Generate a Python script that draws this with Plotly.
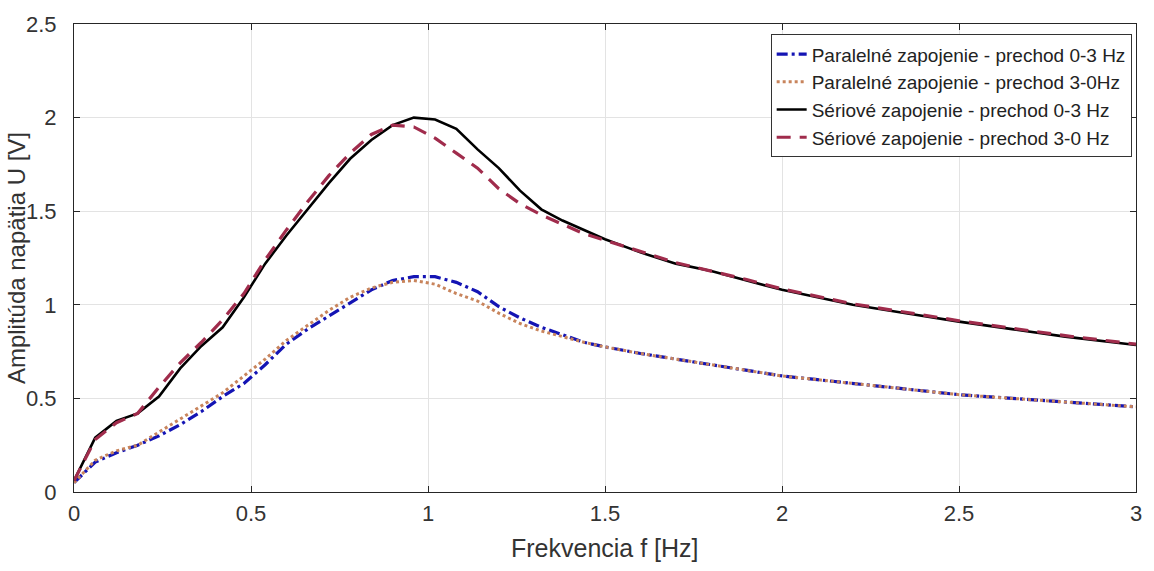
import plotly.graph_objects as go

# Frequency samples [Hz]
freq = [0, 0.06, 0.12, 0.18, 0.24, 0.30, 0.36, 0.42, 0.48, 0.54, 0.60, 0.66, 0.72, 0.78,
        0.84, 0.90, 0.96, 1.02, 1.08, 1.14, 1.20, 1.26, 1.32, 1.38, 1.44, 1.50, 1.60,
        1.70, 1.80, 1.90, 2.00, 2.10, 2.20, 2.35, 2.50, 2.65, 2.80, 3.00]

par_up = [0.05, 0.16, 0.21, 0.25, 0.30, 0.36, 0.43, 0.51, 0.58, 0.68, 0.79, 0.87, 0.94, 1.01,
          1.08, 1.13, 1.15, 1.15, 1.12, 1.07, 0.99, 0.93, 0.88, 0.84, 0.80, 0.775, 0.74,
          0.71, 0.68, 0.65, 0.62, 0.60, 0.58, 0.55, 0.52, 0.50, 0.48, 0.455]

par_down = [0.05, 0.17, 0.22, 0.25, 0.32, 0.39, 0.46, 0.53, 0.62, 0.71, 0.81, 0.89, 0.97, 1.04,
            1.09, 1.12, 1.13, 1.11, 1.06, 1.02, 0.955, 0.90, 0.86, 0.83, 0.80, 0.775, 0.74,
            0.71, 0.68, 0.65, 0.62, 0.60, 0.58, 0.55, 0.52, 0.50, 0.48, 0.455]

ser_up = [0.06, 0.29, 0.38, 0.42, 0.51, 0.66, 0.78, 0.88, 1.04, 1.22, 1.37, 1.51, 1.65, 1.78,
          1.88, 1.96, 2.00, 1.99, 1.94, 1.83, 1.73, 1.61, 1.51, 1.45, 1.40, 1.35, 1.28,
          1.22, 1.18, 1.13, 1.08, 1.04, 1.00, 0.955, 0.91, 0.87, 0.83, 0.785]

ser_down = [0.06, 0.28, 0.37, 0.42, 0.56, 0.69, 0.80, 0.92, 1.06, 1.24, 1.40, 1.55, 1.69, 1.81,
            1.91, 1.96, 1.95, 1.89, 1.81, 1.73, 1.62, 1.54, 1.48, 1.43, 1.38, 1.345, 1.285,
            1.225, 1.18, 1.135, 1.085, 1.045, 1.005, 0.96, 0.915, 0.875, 0.835, 0.79]

names = ["Paralelné zapojenie - prechod 0-3 Hz",
         "Paralelné zapojenie - prechod 3-0Hz",
         "Sériové zapojenie - prechod 0-3 Hz",
         "Sériové zapojenie - prechod 3-0 Hz"]

x_title = "Frekvencia f [Hz]"
y_title = "Amplitúda napätia U [V]"

x_ticks = [0, 0.5, 1, 1.5, 2, 2.5, 3]
x_tick_text = ["0", "0.5", "1", "1.5", "2", "2.5", "3"]
y_ticks = [0, 0.5, 1, 1.5, 2, 2.5]
y_tick_text = ["0", "0.5", "1", "1.5", "2", "2.5"]

fig = go.Figure()
fig.add_trace(go.Scatter(x=freq, y=par_up, name=names[0], mode="lines", legendgroup="a",
                         line=dict(color="#1414b4", width=3.2, dash="11px,4px,3px,4px")))
fig.add_trace(go.Scatter(x=freq, y=par_down, name=names[1], mode="lines", legendgroup="b",
                         line=dict(color="#c8845c", width=3, dash="dot")))
fig.add_trace(go.Scatter(x=freq, y=ser_up, name=names[2], mode="lines", legendgroup="c",
                         line=dict(color="#000000", width=2.6)))
fig.add_trace(go.Scatter(x=freq, y=ser_down, name=names[3], mode="lines", legendgroup="d",
                         line=dict(color="#a02c4c", width=3.2, dash="14px,9px")))

sans = "Liberation Sans, Arial, sans-serif"
axis_common = dict(showgrid=True, gridcolor="#e3e3e3", gridwidth=1, zeroline=False,
                   showline=True, linecolor="#262626", linewidth=1, mirror="ticks",
                   ticks="inside", ticklen=6, tickcolor="#262626")

fig.update_layout(
    width=1154, height=571,
    margin=dict(l=74, r=13, t=17, b=79),
    paper_bgcolor="white", plot_bgcolor="white",
    font=dict(family=sans, color="#333333"),
    xaxis=dict(range=[0, 3], tickvals=x_ticks, ticktext=x_tick_text,
               tickfont=dict(family=sans, size=22, color="#333333"),
               ticklabelstandoff=2,
               **axis_common),
    yaxis=dict(range=[0, 2.5], tickvals=y_ticks, ticktext=y_tick_text,
               tickfont=dict(family=sans, size=22, color="#333333"),
               ticklabelstandoff=12,
               **axis_common),
    legend=dict(x=0.656, y=0.978, xanchor="left", yanchor="top",
                bgcolor="white", bordercolor="#333333", borderwidth=1,
                font=dict(family=sans, size=19, color="#222222"),
                itemwidth=30, tracegroupgap=6, traceorder="normal"),
    showlegend=True,
    annotations=[
        dict(text=x_title, xref="paper", yref="paper", x=0.5, y=-0.119,
             xanchor="center", yanchor="middle", showarrow=False,
             font=dict(family=sans, size=25, color="#333333")),
        dict(text=y_title, xref="paper", yref="paper", x=-0.0545, y=0.5,
             xanchor="center", yanchor="middle", showarrow=False, textangle=-90,
             font=dict(family=sans, size=24, color="#333333")),
    ],
)

fig.write_html("out.html")
